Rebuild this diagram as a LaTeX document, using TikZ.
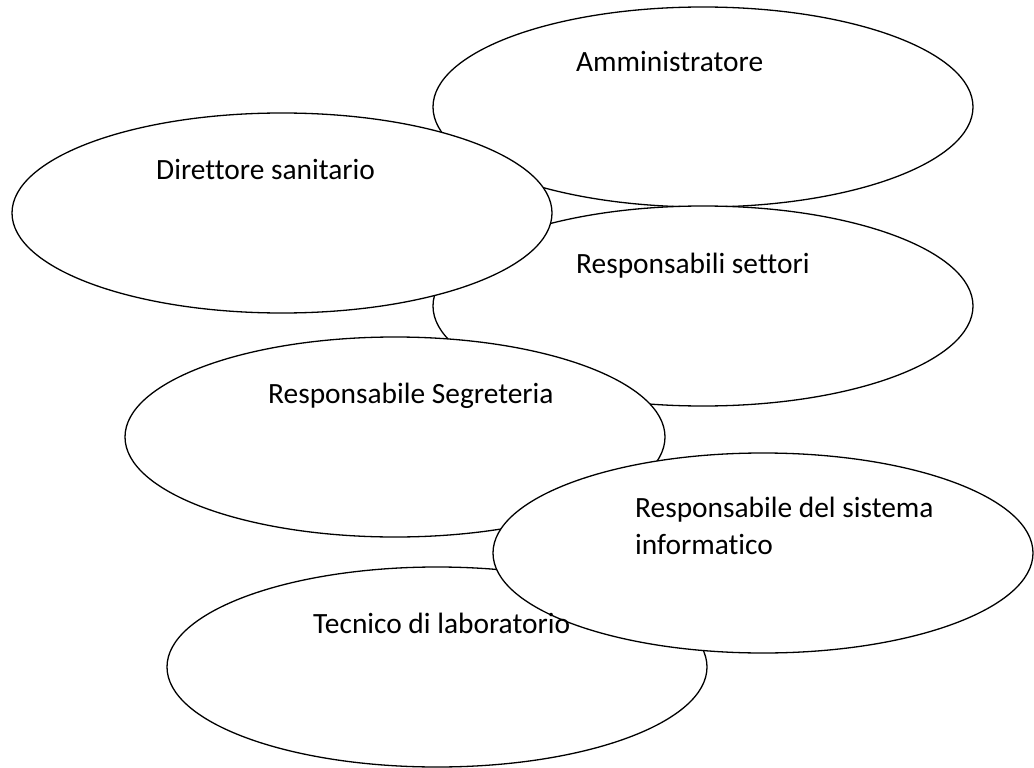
\documentclass[tikz,border=0pt]{standalone}
\usepackage{fontspec}
\setmainfont[Ligatures=NoCommon]{Carlito}
\usetikzlibrary{shapes.geometric}

\begin{document}
\begin{tikzpicture}[x=1pt,y=-1pt]
\tikzstyle{role}=[draw=black,fill=white,ellipse,line width=1.3pt,
  minimum width=540pt,minimum height=200pt,inner sep=0pt]
\tikzstyle{rolename}=[inner sep=0pt,anchor=base west,align=left,
  font=\fontsize{29.4}{37}\selectfont]
\useasboundingbox (0,0) rectangle (1034,768);
\node [role] (admin) at (703,107) {};
\node [role] (settori) at (703,306) {};
\node [role] (direttore) at (282,213) {};
\node [role] (segreteria) at (395,437) {};
\node [role] (tecnico) at (437,667) {};
\node [role] (sistema) at (763,553) {};
\node [rolename] (admintxt) at (576,72) {Amministratore};
\node [rolename] (direttoretxt) at (156,179) {Direttore sanitario};
\node [rolename] (settoritxt) at (576,273) {Responsabili settori};
\node [rolename] (segreteriatxt) at (268,403) {Responsabile Segreteria};
\node [rolename] (sistematxt) at (635,554) {Responsabile del sistema\\informatico};
\node [rolename] (tecnicotxt) at (313,633) {Tecnico di laboratorio};
\end{tikzpicture}
\end{document}
